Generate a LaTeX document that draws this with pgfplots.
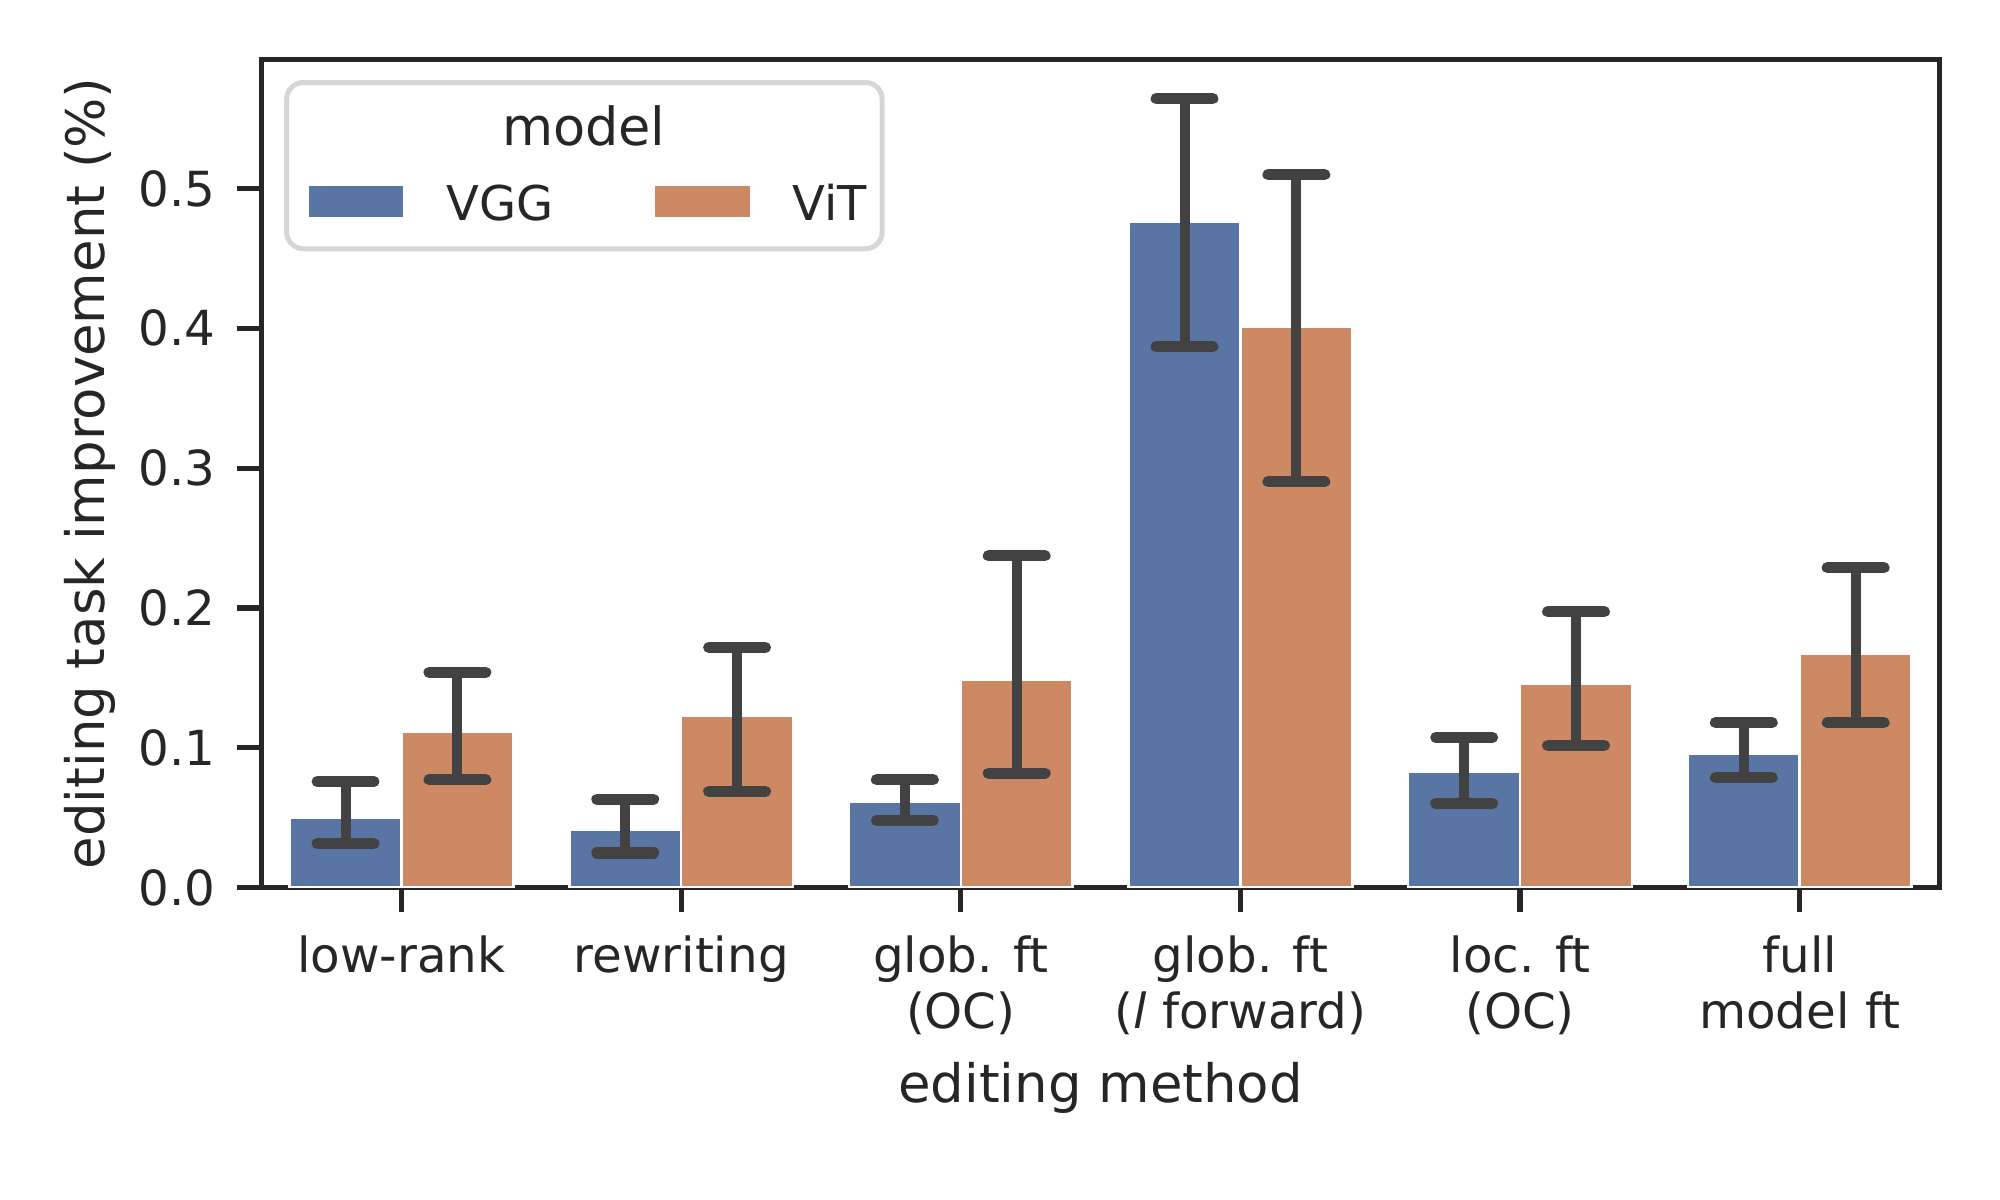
\documentclass[border=0pt]{standalone}
\usepackage{fontspec}
\setmainfont{DejaVu Sans}
\usepackage{pgfplots}
\pgfplotsset{compat=1.18}
\definecolor{vgg}{HTML}{5875A4}
\definecolor{vit}{HTML}{CC8963}
\definecolor{errc}{HTML}{424242}
\definecolor{txt}{HTML}{262626}
\definecolor{legframe}{HTML}{D6D6D6}

\begin{document}
\begin{tikzpicture}
\path[use as bounding box] (-62.8pt,-74.9pt) rectangle (417.2pt,213pt);
\begin{axis}[
    at={(0,0)}, anchor=south west,
    scale only axis, width=402.7pt, height=198.8pt,
    xmin=-0.5, xmax=5.5, ymin=0, ymax=0.5926,
    ybar, bar width=0.4, bar shift=0pt,
    axis line style={txt, line width=1.25pt},
    tick align=outside, tick pos=left,
    major tick length=6pt,
    major tick style={txt, line width=1.25pt},
    xtick={0,1,2,3,4,5},
    xticklabels={low-rank, rewriting, {glob. ft\\(OC)}, {glob. ft\\(\textit{l} forward)}, {loc. ft\\(OC)}, {full\\model ft}},
    xticklabel style={align=center, font=\fontsize{11.6}{13.6}\selectfont, text=txt, yshift=-2pt},
    ytick={0,0.1,0.2,0.3,0.4,0.5},
    yticklabel style={font=\fontsize{11.6}{13.6}\selectfont, text=txt, xshift=-1.5pt,
        /pgf/number format/.cd, fixed, fixed zerofill, precision=1, assume math mode=true},
    xlabel={editing method},
    ylabel={editing task improvement (\%)},
    xlabel style={font=\fontsize{12.7}{15}\selectfont, text=txt, at={(axis description cs:0.5,-0.242)}, anchor=center},
    ylabel style={font=\fontsize{12.7}{15}\selectfont, text=txt, at={(axis description cs:-0.1023,0.5)}, anchor=center},
    legend columns=2,
    legend cell align=left,
    legend style={at={(axis description cs:0.0278,0.823)}, anchor=west,
        draw=none, fill=none, inner sep=0pt,
        font=\fontsize{11.5}{13.6}\selectfont, text=txt,
        nodes={inner sep=0pt},
        /tikz/every odd column/.append style={column sep=10.3pt},
        /tikz/every even column/.append style={column sep=24.5pt}},
    error bars/y dir=both,
    error bars/y explicit,
    error bars/error mark=-,
    error bars/error bar style={errc, line width=2.4pt},
    error bars/error mark options={errc, line width=2.7pt, line cap=round, mark size=6.8pt, rotate=90},
]

\draw[legframe, line width=1.2pt, fill=white, rounded corners=4pt]
    (axis description cs:0.0149,0.9718) rectangle (axis description cs:0.3698,0.7711);
\node[anchor=base, text=txt, font=\fontsize{12.6}{15}\selectfont] at (axis description cs:0.192,0.896) {model};

\addplot[fill=vgg, draw=white, line width=0.6pt,
    legend image code/.code={\fill[vgg] (0pt,-2.5pt) rectangle (22pt,4.5pt);}]
coordinates {
    (-0.2,0.0500) += (0,0.0258) -= (0,0.0185)
    (0.8,0.0415)  += (0,0.0215) -= (0,0.0168)
    (1.8,0.0615)  += (0,0.0157) -= (0,0.0136)
    (2.8,0.4760)  += (0,0.0884) -= (0,0.0890)
    (3.8,0.0831)  += (0,0.0242) -= (0,0.0229)
    (4.8,0.0960)  += (0,0.0220) -= (0,0.0175)
};
\addlegendentry{VGG}

\addplot[fill=vit, draw=white, line width=0.6pt,
    legend image code/.code={\fill[vit] (0pt,-2.5pt) rectangle (22pt,4.5pt);}]
coordinates {
    (0.2,0.1116) += (0,0.0423) -= (0,0.0344)
    (1.2,0.1231) += (0,0.0486) -= (0,0.0544)
    (2.2,0.1488) += (0,0.0885) -= (0,0.0670)
    (3.2,0.4014) += (0,0.1086) -= (0,0.1110)
    (4.2,0.1457) += (0,0.0517) -= (0,0.0441)
    (5.2,0.1674) += (0,0.0614) -= (0,0.0494)
};
\addlegendentry{ViT}

\end{axis}
\end{tikzpicture}
\end{document}
